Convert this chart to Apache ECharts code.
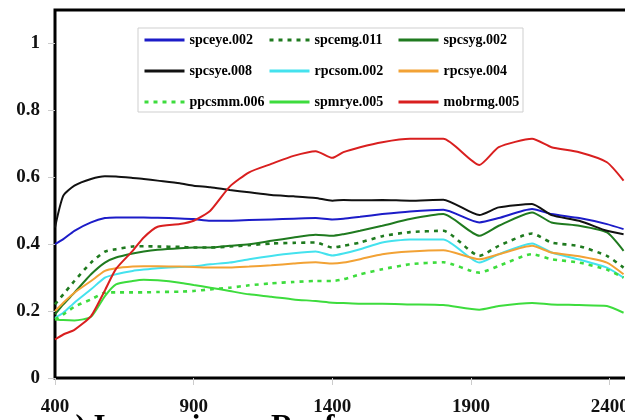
<!DOCTYPE html>
<html>
<head>
<meta charset="utf-8">
<script src="https://cdn.jsdelivr.net/npm/echarts@6/dist/echarts.min.js"></script>
<style>html,body{margin:0;padding:0;background:#fff}#c{width:625px;height:420px}</style>
</head>
<body>
<div id="c"></div>
<script>
var wavelengths = [400, 430, 470, 530, 580, 620, 680, 720, 770, 850, 900, 960, 1030, 1100, 1180, 1260, 1340, 1400, 1440, 1500, 1580, 1680, 1800, 1930, 2000, 2120, 2190, 2290, 2390, 2450];
var spceye002 = [0.40, 0.415, 0.44, 0.465, 0.478, 0.48, 0.48, 0.48, 0.479, 0.477, 0.475, 0.47, 0.47, 0.472, 0.474, 0.476, 0.478, 0.474, 0.476, 0.482, 0.49, 0.498, 0.503, 0.465, 0.478, 0.505, 0.49, 0.478, 0.46, 0.445];
var spcemg011 = [0.22, 0.25, 0.29, 0.345, 0.378, 0.385, 0.393, 0.394, 0.393, 0.392, 0.39, 0.39, 0.393, 0.397, 0.402, 0.404, 0.405, 0.39, 0.395, 0.405, 0.424, 0.436, 0.44, 0.365, 0.395, 0.432, 0.405, 0.394, 0.365, 0.33];
var spcsyg002 = [0.19, 0.22, 0.255, 0.31, 0.345, 0.36, 0.372, 0.378, 0.383, 0.388, 0.39, 0.39, 0.395, 0.40, 0.41, 0.42, 0.428, 0.425, 0.43, 0.44, 0.455, 0.475, 0.49, 0.425, 0.455, 0.495, 0.465, 0.455, 0.435, 0.38];
var spcsye008 = [0.45, 0.545, 0.575, 0.595, 0.603, 0.602, 0.598, 0.595, 0.59, 0.582, 0.575, 0.57, 0.562, 0.555, 0.547, 0.543, 0.538, 0.53, 0.532, 0.531, 0.532, 0.53, 0.533, 0.487, 0.51, 0.52, 0.487, 0.47, 0.44, 0.43];
var rpcsom002 = [0.18, 0.195, 0.225, 0.265, 0.30, 0.31, 0.32, 0.324, 0.328, 0.332, 0.334, 0.34, 0.345, 0.355, 0.365, 0.373, 0.378, 0.366, 0.372, 0.385, 0.405, 0.414, 0.414, 0.345, 0.37, 0.402, 0.375, 0.354, 0.33, 0.30];
var rpcsye004 = [0.20, 0.225, 0.255, 0.29, 0.32, 0.328, 0.333, 0.334, 0.334, 0.333, 0.332, 0.33, 0.33, 0.333, 0.337, 0.342, 0.346, 0.342, 0.345, 0.355, 0.37, 0.378, 0.382, 0.355, 0.37, 0.395, 0.375, 0.364, 0.345, 0.31];
var ppcsmm006 = [0.175, 0.19, 0.213, 0.235, 0.255, 0.256, 0.256, 0.256, 0.257, 0.258, 0.26, 0.265, 0.27, 0.277, 0.283, 0.287, 0.29, 0.29, 0.295, 0.31, 0.325, 0.34, 0.346, 0.315, 0.335, 0.37, 0.355, 0.345, 0.324, 0.30];
var spmrye005 = [0.175, 0.173, 0.172, 0.183, 0.245, 0.28, 0.29, 0.294, 0.292, 0.285, 0.278, 0.27, 0.26, 0.25, 0.243, 0.235, 0.23, 0.225, 0.224, 0.222, 0.222, 0.22, 0.218, 0.204, 0.215, 0.224, 0.22, 0.218, 0.215, 0.195];
var mobrmg005 = [0.115, 0.13, 0.144, 0.185, 0.262, 0.326, 0.38, 0.42, 0.452, 0.46, 0.47, 0.5, 0.572, 0.615, 0.64, 0.664, 0.678, 0.658, 0.675, 0.69, 0.705, 0.715, 0.715, 0.637, 0.69, 0.715, 0.69, 0.675, 0.645, 0.59];

var seriesNames = ['spceye.002', 'spcemg.011', 'spcsyg.002', 'spcsye.008', 'rpcsom.002', 'rpcsye.004', 'ppcsmm.006', 'spmrye.005', 'mobrmg.005'];
var seriesValues = [spceye002, spcemg011, spcsyg002, spcsye008, rpcsom002, rpcsye004, ppcsmm006, spmrye005, mobrmg005];
var seriesColors = ['#1c1cc8', '#1f7a1f', '#1f7a1f', '#111111', '#44e2ee', '#f2a235', '#3ddc3d', '#3ddc3d', '#d91f1f'];
var seriesDashed = [false, true, false, false, false, false, true, false, false];

var FONT = 'Liberation Serif';
var series = seriesNames.map(function (name, i) {
  return {
    name: name,
    type: 'line',
    symbol: 'none',
    smooth: 0.2,
    data: wavelengths.map(function (w, j) { return [w, seriesValues[i][j]]; }),
    lineStyle: { color: seriesColors[i], width: seriesDashed[i] ? 2.6 : 2, type: seriesDashed[i] ? [4, 5] : 'solid' },
    itemStyle: { color: seriesColors[i] },
    z: 3
  };
});

function legendCol(names, left) {
  return {
    orient: 'vertical', left: left, top: 33, padding: 0,
    itemWidth: 40, itemHeight: 14, itemGap: 17,
    data: names,
    itemStyle: { opacity: 0 },
    lineStyle: { width: 3 },
    textStyle: { fontFamily: FONT, fontWeight: 'bold', fontSize: 14, color: '#000', lineHeight: 14 }
  };
}

function plainNum(v) { return String(v); }

var chart = echarts.init(document.getElementById('c'), null, { renderer: 'canvas' });
chart.setOption({
  animation: false,
  backgroundColor: '#fff',
  grid: { left: 55, right: -3, top: 10, bottom: 42, outerBoundsMode: 'none', containLabel: false, show: true, borderColor: '#000', borderWidth: 3, backgroundColor: 'transparent' },
  xAxis: {
    type: 'value', min: 400, max: 2466, interval: 500,
    axisLine: { show: false },
    axisTick: { show: true, length: 7, lineStyle: { color: '#ccc' } },
    splitLine: { show: false },
    axisLabel: { margin: 20, showMaxLabel: false, formatter: plainNum, fontFamily: FONT, fontWeight: 'bold', fontSize: 19, color: '#111' }
  },
  yAxis: {
    type: 'value', min: 0, max: 1.1, interval: 0.2,
    axisLine: { show: false },
    axisTick: { show: true, length: 7, lineStyle: { color: '#ccc' } },
    splitLine: { show: false },
    axisLabel: { margin: 15, showMaxLabel: false, formatter: plainNum, fontFamily: FONT, fontWeight: 'bold', fontSize: 19, color: '#111' }
  },
  legend: [
    legendCol(['spceye.002', 'spcsye.008', 'ppcsmm.006'], 143),
    legendCol(['spcemg.011', 'rpcsom.002', 'spmrye.005'], 268),
    legendCol(['spcsyg.002', 'rpcsye.004', 'mobrmg.005'], 397)
  ],
  graphic: [
    { type: 'rect', shape: { x: 138, y: 28, width: 385, height: 84 }, style: { fill: '#fff', stroke: '#cfcfcf', lineWidth: 1 }, z: 2 },
    { type: 'text', x: 60, y: 412, style: { text: 'a) Impervious - Roof', fontFamily: FONT, fontWeight: 'bold', fontSize: 31, fill: '#000', verticalAlign: 'top' }, z: 5 }
  ],
  series: series
});
</script>
</body>
</html>
